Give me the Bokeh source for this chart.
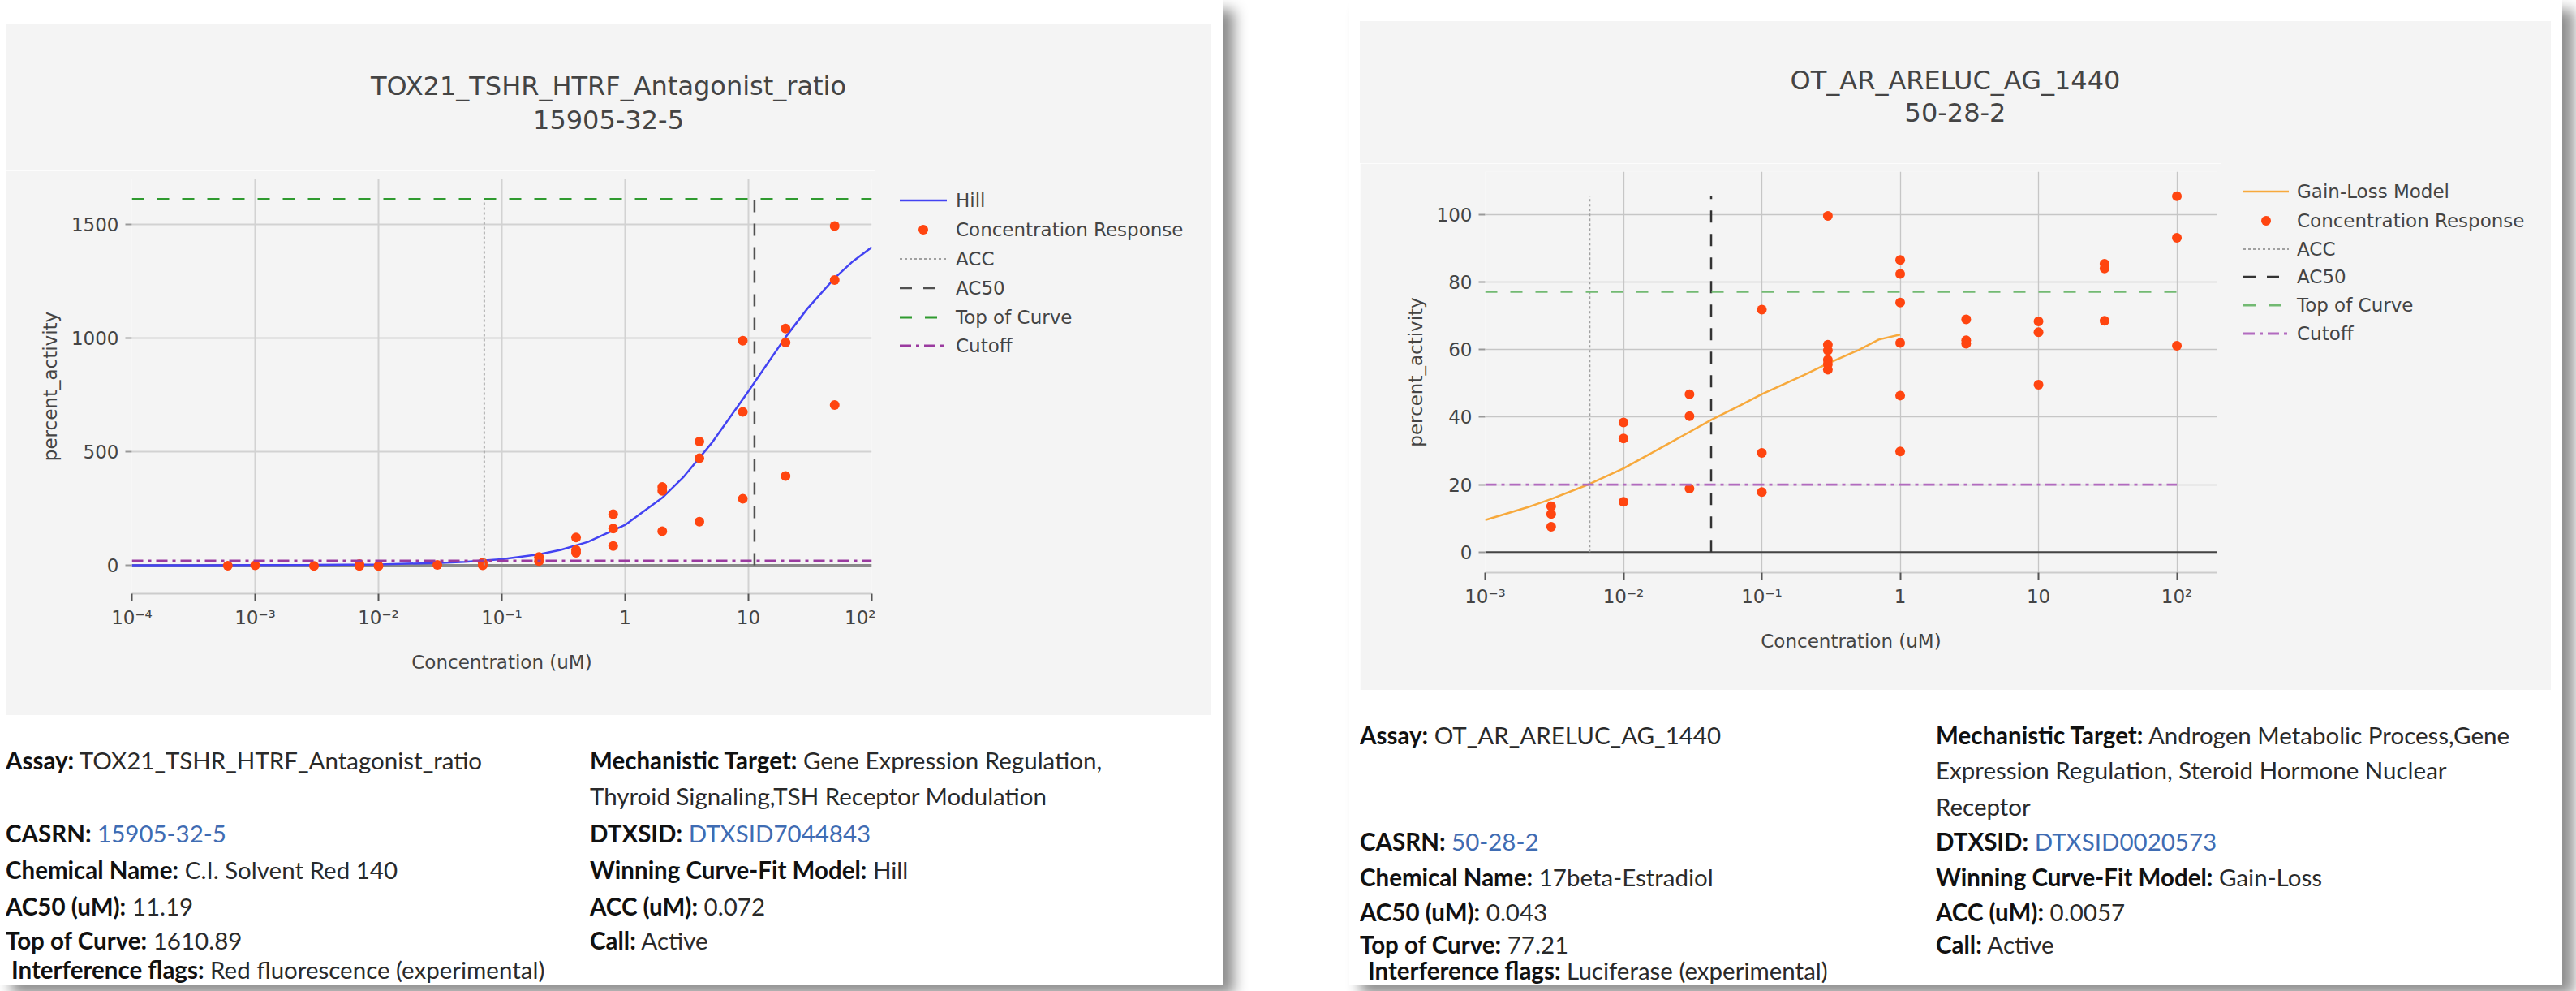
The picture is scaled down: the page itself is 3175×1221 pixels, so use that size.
from bokeh.plotting import figure
from bokeh.models import Range1d, Span, Div, Spacer, CustomJSTickFormatter
from bokeh.layouts import row, column
from bokeh.embed import file_html
from bokeh.resources import INLINE
try:
    from bokeh.models import GlobalInlineStyleSheet
except Exception:
    GlobalInlineStyleSheet = None

FONT = "DejaVu Sans"
INK = "#444444"
BG = "#f4f4f4"
DOT = "#ff4510"

# ---------------- Chart 1 : TOX21_TSHR_HTRF_Antagonist_ratio ----------------
c1_title = ["TOX21_TSHR_HTRF_Antagonist_ratio", "15905-32-5"]
c1_model = "Hill"
c1_conc = [0.0006, 0.001, 0.003, 0.007, 0.007, 0.01, 0.03, 0.07, 0.07,
           0.2, 0.2, 0.4, 0.4, 0.4, 0.8, 0.8, 0.8, 2, 2, 2, 4, 4, 4,
           9, 9, 9, 20, 20, 20, 50, 50, 50]
c1_resp = [-2, 0, -3, 5, -3, -3, 2, 12, 0,
           37, 19, 122, 67, 55, 225, 162, 85, 345, 328, 150, 545, 471, 192,
           988, 675, 293, 1042, 980, 393, 1493, 1255, 705]
c1_curve_x = [1e-4, 3e-4, 1e-3, 3e-3, 1e-2, 3e-2, 0.05, 0.1, 0.2, 0.3, 0.5,
              1, 2, 3, 5, 10, 20, 30, 50, 70, 100]
c1_curve_y = [0, 0, 1, 2, 4, 10, 15, 27, 48, 68, 103,
              178, 297, 391, 536, 766, 1004, 1129, 1264, 1337, 1400]
c1_acc = 0.072
c1_ac50 = 11.19
c1_top = 1610.89
c1_cutoff = 20
c1_vline_top = 1610.89
c1_hline_x = [1e-4, 100]
c1_x_ticks = [1e-4, 1e-3, 1e-2, 1e-1, 1, 10, 100]
c1_y_ticks = [0, 500, 1000, 1500]
c1_x_range = (1e-4, 100)
c1_y_range = (-125, 1700)

# ---------------- Chart 2 : OT_AR_ARELUC_AG_1440 ----------------
c2_title = ["OT_AR_ARELUC_AG_1440", "50-28-2"]
c2_model = "Gain-Loss Model"
c2_conc = [0.003, 0.003, 0.003, 0.01, 0.01, 0.01, 0.03, 0.03, 0.03,
           0.1, 0.1, 0.1, 0.3, 0.3, 0.3, 0.3, 0.3, 0.3,
           1, 1, 1, 1, 1, 1, 3, 3, 3, 10, 10, 10, 30, 30, 30, 100, 100, 100]
c2_resp = [13.6, 11.3, 7.5, 38.4, 33.7, 14.9, 46.8, 40.3, 18.8,
           71.9, 29.4, 17.8, 99.7, 61.5, 59.8, 57.0, 55.7, 54.1,
           86.6, 82.5, 74.0, 62.0, 46.4, 29.8, 69.0, 62.8, 61.8,
           68.4, 65.2, 49.6, 85.5, 84.1, 68.6, 105.5, 93.2, 61.2]
c2_curve_x = [0.001, 0.002, 0.003, 0.0057, 0.01, 0.02, 0.03, 0.043, 0.07,
              0.1, 0.2, 0.3, 0.5, 0.7, 1]
c2_curve_y = [9.5, 13.2, 15.7, 20.2, 24.8, 31.6, 35.6, 39.2, 43.5,
              46.8, 52.4, 55.9, 59.9, 63.0, 64.5]
c2_acc = 0.0057
c2_ac50 = 0.043
c2_top = 77.21
c2_cutoff = 20
c2_vline_top = 105.5
c2_hline_x = [0.001, 100]
c2_x_ticks = [1e-3, 1e-2, 1e-1, 1, 10, 100]
c2_y_ticks = [0, 20, 40, 60, 80, 100]
c2_x_range = (1e-3, 195)
c2_y_range = (-6.1, 112.8)

legend_names = ["Concentration Response", "ACC", "AC50", "Top of Curve", "Cutoff"]

# ---------------- info text ----------------
info1 = [
    (0, 56, "Assay:", "TOX21_TSHR_HTRF_Antagonist_ratio", False),
    (720, 56, "Mechanistic Target:", "Gene Expression Regulation,", False),
    (720, 100, "", "Thyroid Signaling,TSH Receptor Modulation", False),
    (0, 146, "CASRN:", "15905-32-5", True),
    (720, 146, "DTXSID:", "DTXSID7044843", True),
    (0, 191, "Chemical Name:", "C.I. Solvent Red 140", False),
    (720, 191, "Winning Curve-Fit Model:", "Hill", False),
    (0, 236, "AC50 (uM):", "11.19", False),
    (720, 236, "ACC (uM):", "0.072", False),
    (0, 278, "Top of Curve:", "1610.89", False),
    (720, 278, "Call:", "Active", False),
    (7, 314, "Interference flags:", "Red fluorescence (experimental)", False),
]
info2 = [
    (0, 56, "Assay:", "OT_AR_ARELUC_AG_1440", False),
    (710, 56, "Mechanistic Target:", "Androgen Metabolic Process,Gene", False),
    (710, 99, "", "Expression Regulation, Steroid Hormone Nuclear", False),
    (710, 144, "", "Receptor", False),
    (0, 187, "CASRN:", "50-28-2", True),
    (710, 187, "DTXSID:", "DTXSID0020573", True),
    (0, 231, "Chemical Name:", "17beta-Estradiol", False),
    (710, 231, "Winning Curve-Fit Model:", "Gain-Loss", False),
    (0, 274, "AC50 (uM):", "0.043", False),
    (710, 274, "ACC (uM):", "0.0057", False),
    (0, 314, "Top of Curve:", "77.21", False),
    (710, 314, "Call:", "Active", False),
    (10, 346, "Interference flags:", "Luciferase (experimental)", False),
]

TICK_JS = """
const e = Math.round(Math.log10(tick));
if (e === 0) return "1";
if (e === 1) return "10";
const m = {"-":"\u207b","0":"\u2070","1":"\u00b9","2":"\u00b2","3":"\u00b3",
           "4":"\u2074","5":"\u2075","6":"\u2076","7":"\u2077","8":"\u2078","9":"\u2079"};
return "10" + String(e).split("").map(c => m[c]).join("");
"""


def mark_styles(style):
    # (kind, color, width, dash)
    return [
        ("line", style["curve"], 2.5, None),
        ("dot", DOT, 12, None),
        ("line", "#a0a0a0", 1.8, "3 3"),
        ("line", style["ac50"], 2.5, "15 14"),
        ("line", style["top"], 2.8, "15 16"),
        ("line", style["cut"], 2.8, "14 6 4 6"),
    ]


def line_kw(ms):
    kind, color, w, dash = ms
    kw = dict(line_color=color, line_width=w)
    if dash:
        kw["line_dash"] = dash
    return kw


def build_chart(conc, resp, cx, cy, acc, ac50, top, cutoff, vtop,
                hx, xticks, yticks, xr, yr, geom, style):
    W, H, bl, br, bt, bb = geom
    p = figure(width=W, height=H, x_axis_type="log",
               x_range=Range1d(*xr), y_range=Range1d(*yr),
               output_backend="svg", toolbar_location=None,
               min_border_left=bl, min_border_right=br,
               min_border_top=bt, min_border_bottom=bb)
    p.background_fill_color = BG
    p.border_fill_color = BG
    p.outline_line_color = None

    p.xaxis.ticker = xticks
    p.yaxis.ticker = yticks
    p.xgrid.ticker = xticks
    p.ygrid.ticker = yticks
    p.xaxis.formatter = CustomJSTickFormatter(code=TICK_JS)
    for g in (p.xgrid, p.ygrid):
        g.grid_line_color = style["grid"]
        g.grid_line_width = style["grid_w"]

    for ax in (p.xaxis, p.yaxis):
        ax.major_label_text_font = FONT
        ax.major_label_text_font_size = "23px"
        ax.major_label_text_color = INK
        ax.axis_label_text_font = FONT
        ax.axis_label_text_font_size = "23px"
        ax.axis_label_text_font_style = "normal"
        ax.axis_label_text_color = INK
        ax.minor_tick_line_color = None
        ax.major_tick_in = 0
    p.xaxis.axis_label = "Concentration (uM)"
    p.yaxis.axis_label = "percent_activity"
    p.xaxis.axis_line_color = "#cccccc"
    p.xaxis.axis_line_width = 2
    p.xaxis.major_tick_line_color = "#555555"
    p.xaxis.major_tick_line_width = 2
    p.xaxis.major_tick_out = 9
    p.xaxis.major_label_standoff = 7
    p.xaxis.axis_label_standoff = 26
    p.yaxis.axis_line_color = None
    p.yaxis.major_tick_line_color = "#999999"
    p.yaxis.major_tick_line_width = 2
    p.yaxis.major_tick_out = 8
    p.yaxis.major_label_standoff = 8
    p.yaxis.axis_label_standoff = 10

    p.add_layout(Span(location=0, dimension="width", line_color=style["zero"],
                      line_width=style["zero_w"], level="underlay"))

    ms = mark_styles(style)
    p.line(cx, cy, **line_kw(ms[0]))
    p.scatter(conc, resp, size=ms[1][2], fill_color=ms[1][1], line_color=None)
    p.line([acc, acc], [0, vtop], **line_kw(ms[2]))
    p.line([ac50, ac50], [0, vtop], **line_kw(ms[3]))
    p.line(hx, [top, top], **line_kw(ms[4]))
    p.line(hx, [cutoff, cutoff], **line_kw(ms[5]))
    return p


def legend_div(model, style, width, height, ys, sw_x, sw_w, text_x):
    names = [model] + legend_names
    parts = ['<div style="position:relative;width:%dpx;height:%dpx;background:%s;'
             'font-family:\'DejaVu Sans\',Verdana,sans-serif;font-size:23px;color:%s;">'
             % (width, height, BG, INK)]
    for name, ms, yc in zip(names, mark_styles(style), ys):
        kind, color, w, dash = ms
        if kind == "dot":
            shape = '<circle cx="%g" cy="10" r="%g" fill="%s"/>' % (sw_w / 2, w / 2, color)
        else:
            da = ' stroke-dasharray="%s"' % dash if dash else ""
            shape = ('<line x1="0" y1="10" x2="%d" y2="10" stroke="%s" stroke-width="%g"%s/>'
                     % (sw_w, color, w, da))
        parts.append('<svg width="%d" height="20" style="position:absolute;left:%dpx;top:%gpx;">'
                     '%s</svg>' % (sw_w, sw_x, yc - 10, shape))
        parts.append('<div style="position:absolute;left:%dpx;top:%gpx;line-height:30px;'
                     'white-space:nowrap;">%s</div>' % (text_x, yc - 15, name))
    parts.append("</div>")
    return Div(text="".join(parts), width=width, height=height, margin=0,
               styles={"background-color": BG})


def title_div(lines, width, height, pad_top, line_h):
    html = ('<div style="width:%dpx;height:%dpx;box-sizing:border-box;padding-top:%dpx;'
            'background:%s;text-align:center;font-family:\'DejaVu Sans\',Verdana,sans-serif;'
            'font-size:32px;line-height:%dpx;color:%s;white-space:nowrap;">%s</div>'
            % (width, height, pad_top, BG, line_h, INK, "<br>".join(lines)))
    return Div(text=html, width=width, height=height, margin=0,
               styles={"background-color": BG})


def info_div(rows, width, height):
    parts = ['<div style="position:relative;width:%dpx;height:%dpx;overflow:hidden;'
             'font-family:Lato,\'Open Sans\',sans-serif;font-size:29.5px;line-height:30px;'
             'color:#212529;">' % (width, height)]
    for x, yc, lab, val, link in rows:
        col = "#3f6cb3" if link else "#2a2a2a"
        b = '<b style="color:#111">%s</b> ' % lab if lab else ""
        parts.append('<div style="position:absolute;left:%dpx;top:%dpx;white-space:nowrap;">'
                     '%s<span style="color:%s">%s</span></div>' % (x, yc - 15, b, col, val))
    parts.append("</div>")
    return Div(text="".join(parts), width=width, height=height, margin=0)


style1 = dict(grid="#d2d2d2", grid_w=2, zero="#8a8a8a", zero_w=3, curve="#4343f2",
              ac50="#505050", top="#2f9a2f", cut="#9a3a9f")
style2 = dict(grid="#c6c6c6", grid_w=1.3, zero="#444444", zero_w=2, curve="#f7a93c",
              ac50="#333333", top="#72b972", cut="#b26bbf")

# left gray box 1486 x 851: title 180, figure 1072 x 671 + legend 414 x 671
p1 = build_chart(c1_conc, c1_resp, c1_curve_x, c1_curve_y,
                 c1_acc, c1_ac50, c1_top, c1_cutoff, c1_vline_top, c1_hline_x,
                 c1_x_ticks, c1_y_ticks, c1_x_range, c1_y_range,
                 (1072, 671, 155, 5, 10, 150), style1)
l1 = legend_div(c1_model, style1, 414, 671, [37, 73, 109, 145, 181, 216], 30, 58, 99)
# right gray box 1468 x 824: title 175, figure 1061 x 649 + legend 407 x 649
p2 = build_chart(c2_conc, c2_resp, c2_curve_x, c2_curve_y,
                 c2_acc, c2_ac50, c2_top, c2_cutoff, c2_vline_top, c2_hline_x,
                 c2_x_ticks, c2_y_ticks, c2_x_range, c2_y_range,
                 (1061, 649, 154, 5, 10, 145), style2)
l2 = legend_div(c2_model, style2, 407, 649, [35, 71, 106, 140, 175, 210], 28, 56, 94)

t1 = title_div(c1_title, 1486, 180, 55, 42)
t2 = title_div(c2_title, 1468, 175, 53, 40)
d1 = info_div(info1, 1486, 332)
d2 = info_div(info2, 1468, 363)

card_style = {"background-color": "white",
              "box-shadow": "14px 12px 16px rgba(0,0,0,0.45)"}

card1 = column(
    Spacer(width=1507, height=30),
    row(Spacer(width=7, height=180), t1),
    row(Spacer(width=7, height=671), p1, l1),
    row(Spacer(width=7, height=332), d1),
    width=1507, height=1213, styles=card_style)
card2 = column(
    Spacer(width=1495, height=26),
    row(Spacer(width=13, height=175), t2),
    row(Spacer(width=13, height=649), p2, l2),
    row(Spacer(width=13, height=363), d2),
    width=1495, height=1213, styles=card_style)
if GlobalInlineStyleSheet is not None:
    card1.stylesheets = [GlobalInlineStyleSheet(css="html, body { overflow: hidden; }")]

page = row(card1, Spacer(width=156, height=1213), card2)

open("out.html", "w").write(file_html(page, INLINE))
